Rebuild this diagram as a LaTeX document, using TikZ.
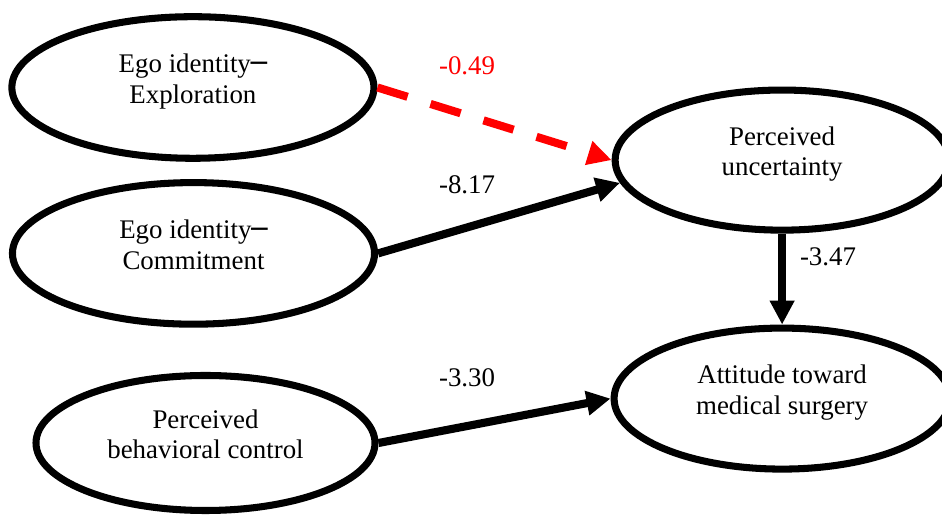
\documentclass[tikz,border=0pt]{standalone}
\usepackage{fontspec}
\setmainfont{Liberation Serif}
\newfontfamily\labelfont{Liberation Serif}
\newfontfamily\boxfont{DejaVu Sans}
\usetikzlibrary{arrows.meta, shapes.geometric, positioning}

\tikzset{
  construct/.style={ellipse, draw, line width=0.235cm, minimum width=12.07cm, minimum height=4.72cm, align=center, inner sep=0pt, text depth=0.6cm},
  effect/.style={line width=0.27cm, -{Triangle[length=0.8cm, width=0.78cm]}},
  weak/.style={effect, red, dash pattern=on 1.05cm off 0.8cm}
}

\begin{document}
\begin{tikzpicture}[every node/.style={font=\labelfont\fontsize{25.5}{29}\selectfont}]
\useasboundingbox (0,0) rectangle (31.4,17.1667);

% Predictors
\node[construct] (explore) at (6.43,14.25) {Ego identity{\boxfont ─}\\Exploration};
\node[construct] (commit) at (6.45,8.72) {Ego identity{\boxfont ─}\\Commitment};
\node[construct, minimum width=11.3cm, minimum height=4.5cm] (control) at (6.85,2.4) {Perceived\\behavioral control};

% Outcomes
\node[construct, minimum width=11.13cm, minimum height=4.67cm] (uncert) at (26.07,11.83) {Perceived\\uncertainty};
\node[construct, minimum width=11.2cm, minimum height=4.7cm] (attitude) at (26.07,3.88) {Attitude toward\\medical surgery};

% Paths
\draw[weak] (explore.east) -- (uncert.west);
\draw[effect] (commit.east) -- (uncert.188);
\draw[effect] (control.east) -- (attitude.west);
\draw[effect] (uncert.south) -- (attitude.north);

% Coefficients
\node[red] (c1) at (15.57,14.98) {-0.49};
\node (c2) at (15.57,11.0) {-8.17};
\node (c3) at (15.57,4.57) {-3.30};
\node (c4) at (27.6,8.6) {-3.47};
\end{tikzpicture}
\end{document}
